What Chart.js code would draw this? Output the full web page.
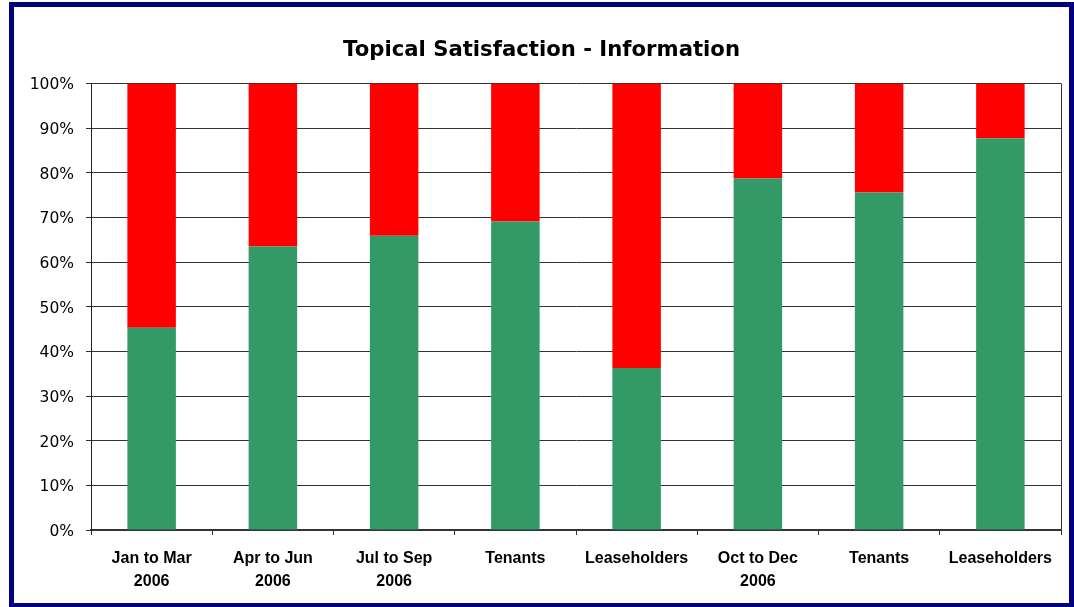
<!DOCTYPE html>
<html>
<head>
<meta charset="utf-8">
<script src="https://cdn.jsdelivr.net/npm/chart.js@4/dist/chart.umd.min.js"></script>
<style>
  html, body { margin: 0; padding: 0; background: #fff; width: 1074px; height: 607px; overflow: hidden; }
  #frame { position: absolute; left: 9px; top: 2px; width: 1055px; height: 596px; border: 5px solid #000080; background: #fff; }
  #wrap { position: absolute; left: 0; top: 0; width: 1055px; height: 596px; }
</style>
</head>
<body>
<div id="frame"><div id="wrap"><canvas id="c"></canvas></div></div>
<script>
const categories = [
  ["Jan to Mar", "2006"],
  ["Apr to Jun", "2006"],
  ["Jul to Sep", "2006"],
  "Tenants",
  "Leaseholders",
  ["Oct to Dec", "2006"],
  "Tenants",
  "Leaseholders"
];
const satisfied = [45.3, 63.5, 65.9, 69.1, 36.3, 78.7, 75.6, 87.7];
const dissatisfied = [54.7, 36.5, 34.1, 30.9, 63.7, 21.3, 24.4, 12.3];
const yTicks = [0, 10, 20, 30, 40, 50, 60, 70, 80, 90, 100];

const plotBorder = {
  id: 'plotBorder',
  afterDraw(chart) {
    const { ctx, chartArea: a } = chart;
    ctx.save();
    ctx.strokeStyle = '#333';
    ctx.lineWidth = 1;
    ctx.beginPath();
    ctx.moveTo(a.right + 0.5, a.top);
    ctx.lineTo(a.right + 0.5, a.bottom);
    ctx.stroke();
    ctx.restore();
  }
};

new Chart(document.getElementById('c'), {
  type: 'bar',
  data: {
    labels: categories,
    datasets: [
      { label: 'Satisfied', data: satisfied, backgroundColor: '#339966', barPercentage: 0.4, categoryPercentage: 1 },
      { label: 'Dissatisfied', data: dissatisfied, backgroundColor: '#FF0000', barPercentage: 0.4, categoryPercentage: 1 }
    ]
  },
  options: {
    responsive: true,
    maintainAspectRatio: false,
    animation: false,
    layout: { padding: { left: 0, right: 0, top: 0, bottom: 0 } },
    plugins: {
      legend: { display: false },
      tooltip: { enabled: false },
      title: {
        display: true,
        text: 'Topical Satisfaction - Information',
        color: '#000',
        font: { family: 'DejaVu Sans, Verdana, sans-serif', size: 21.2, weight: 'bold', lineHeight: 1.2 },
        padding: { top: 31, bottom: 20 }
      }
    },
    scales: {
      x: {
        stacked: true,
        grid: { display: true, drawOnChartArea: false, drawTicks: true, tickLength: 5, offset: true, color: '#333', lineWidth: 1 },
        border: { display: true, color: '#333', width: 2 },
        ticks: {
          color: '#000',
          padding: 12,
          maxRotation: 0,
          autoSkip: false,
          font: { family: 'Liberation Sans, Arial, sans-serif', size: 16, weight: 'bold', lineHeight: 1.45 }
        },
        afterFit(s) { s.height = 73; }
      },
      y: {
        stacked: true,
        min: 0,
        max: 100,
        afterBuildTicks(s) { s.ticks = yTicks.map(v => ({ value: v })); },
        grid: { color: '#333', lineWidth: 1, drawTicks: true, tickLength: 5 },
        border: { display: true, color: '#222', width: 1 },
        ticks: {
          color: '#000',
          padding: 12,
          labelOffset: 2,
          font: { family: 'DejaVu Sans, Verdana, sans-serif', size: 15.5 },
          callback: v => v + '%'
        },
        afterFit(s) { s.width = 77; }
      },
      yRight: {
        position: 'right',
        display: true,
        min: 0,
        max: 100,
        grid: { display: false, drawTicks: false },
        border: { display: false },
        ticks: { display: false },
        afterFit(s) { s.width = 8; }
      }
    }
  },
  plugins: [plotBorder]
});
</script>
</body>
</html>
